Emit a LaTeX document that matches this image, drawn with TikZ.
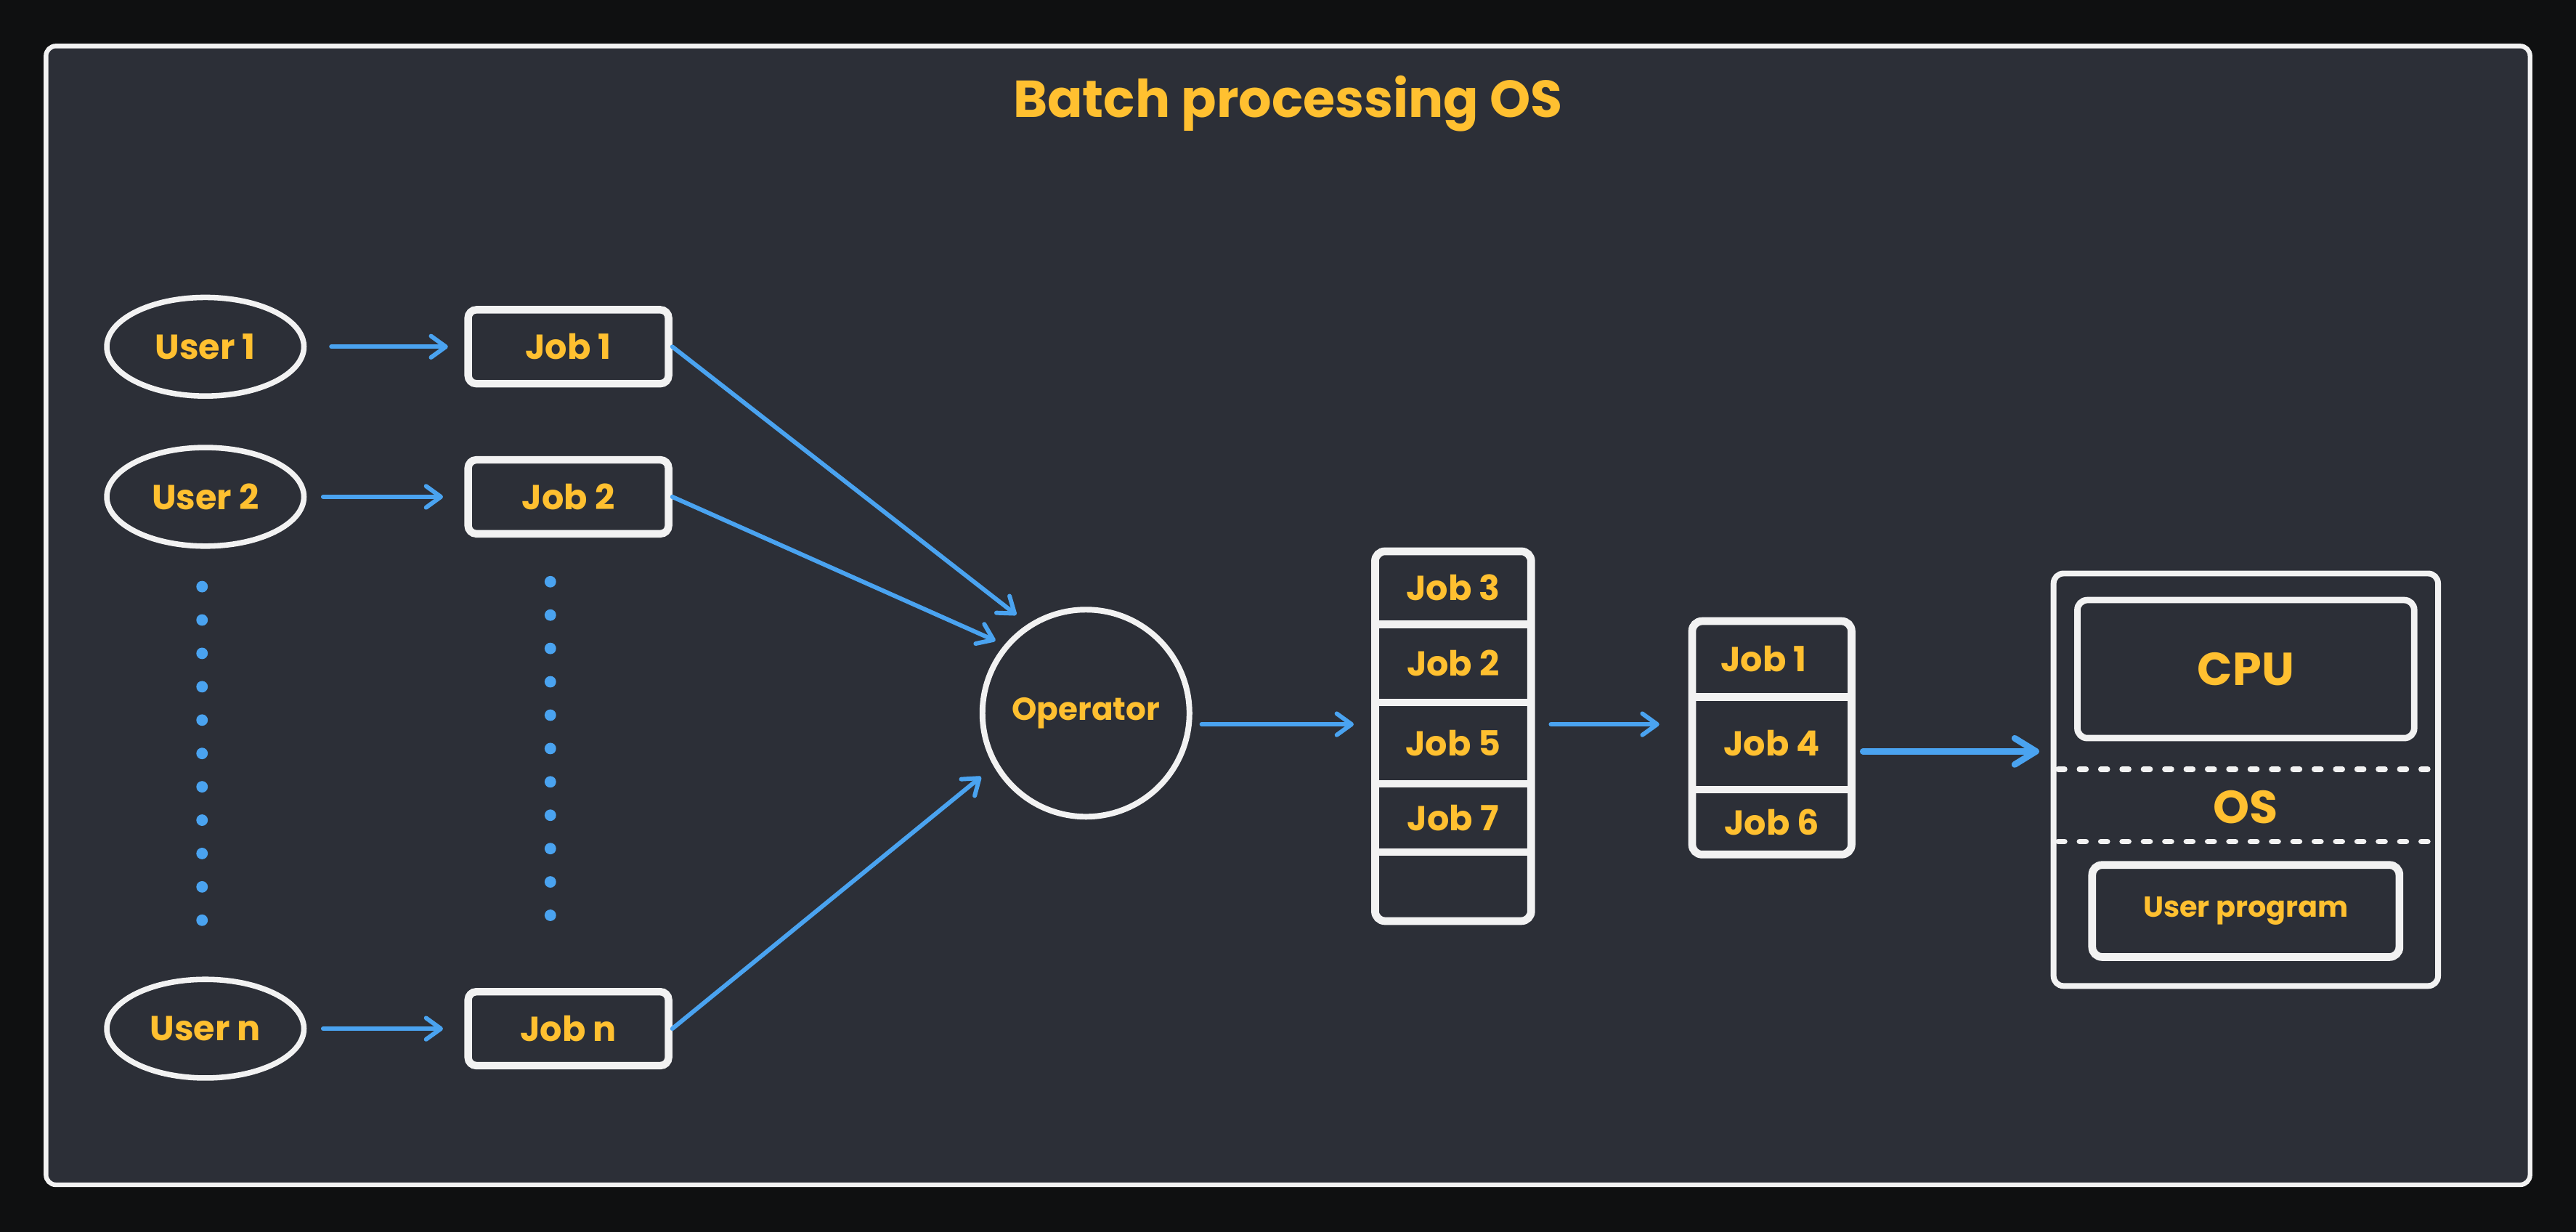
\documentclass[tikz,border=0pt]{standalone}
\usepackage{fontspec}
\setmainfont{Poppins}
\usepackage{tikz}
\usetikzlibrary{positioning}
\usetikzlibrary{arrows.meta}
\usetikzlibrary{shapes.geometric}

\definecolor{night}{RGB}{15,16,17}
\definecolor{panel}{RGB}{44,47,55}
\definecolor{chalk}{RGB}{242,242,242}
\definecolor{sky}{RGB}{74,163,240}
\definecolor{amber}{RGB}{255,192,48}

\tikzset{node distance=5mm, % default gap between placed nodes
user/.style={ % the user ellipses
ellipse, draw=chalk, line width=1.9pt, text=amber,
minimum width=24mm, minimum height=12mm, inner sep=0pt,
font=\bfseries\fontsize{12}{14}\selectfont},
job/.style={ % job cards
rectangle, rounded corners=1mm, draw=chalk, line width=2.6pt, text=amber,
minimum width=24.4mm, minimum height=9mm,
font=\bfseries\fontsize{12}{14}\selectfont},
hub/.style={circle, draw=chalk, line width=2pt, minimum size=25.2mm, inner sep=0pt,
text=amber, font=\bfseries\fontsize{11}{13}\selectfont},
cell/.style={rectangle, inner sep=0pt, outer sep=0pt, text=amber,
font=\bfseries\fontsize{12}{14}\selectfont},
rack/.style={draw=chalk, line width=2.7pt, rounded corners=1.2mm},
sysbox/.style={rectangle, draw=chalk, line width=2pt, rounded corners=1.2mm,
minimum width=46.8mm, minimum height=50.2mm},
part/.style={rectangle, draw=chalk, rounded corners=1.2mm, text=amber},
divider/.style={draw=chalk, line width=1.9pt, line cap=round, dash pattern=on 0.8mm off 1.8mm},
title/.style={text=amber, font=\bfseries\fontsize{18}{22}\selectfont},
every edge/.style={ % blue flow arrows
draw=sky, line width=1.5pt, line cap=round,
-{Straight Barb[round, length=1.8mm, width=2.6mm]}},
bigflow/.style={line width=2.2pt, -{Straight Barb[round, length=2.6mm, width=3.2mm]}}}

\begin{document}
\begin{tikzpicture}[x=0.2mm, y=-0.2mm]
	% backdrop and panel
	\fill[night] (0,0) rectangle (1568,749.7);
	\draw[chalk, fill=panel, line width=1.6pt, rounded corners=1.2mm] (28,28) rectangle (1540,721);
	\node[title] (head) at (784,63) {Batch processing OS};

	% users and jobs
	\node[user] (u1) at (125,211) {User 1};
	\node[user, below=5.6mm of u1] (u2) {User 2};
	\node[user] (un) at (125,626) {User n};
	\node[job, right=19.2mm of u1] (j1) {Job 1};
	\node[job, right=19.2mm of u2] (j2) {Job 2};
	\node[job, right=19.2mm of un] (jn) {Job n};

	\foreach \k in {0,...,10} {
		\fill[sky] (123,357+20.3*\k) circle (0.7mm);
		\fill[sky] (335,354+20.3*\k) circle (0.7mm);
	}

	\draw (u1) edge[shorten <=3mm, shorten >=2mm] (j1);
	\draw (u2) edge[shorten <=2mm, shorten >=2.6mm] (j2);
	\draw (un) edge[shorten <=2mm, shorten >=2.6mm] (jn);

	\node[hub] (op) at (661,434) {Operator};
	\draw (j1.east) edge[shorten >=1.8mm] (op.123);
	\draw (j2.east) edge[shorten >=1.2mm] (op.140);
	\draw (jn.east) edge[shorten >=2mm] (op.210);

	% job pool
	\node[cell, minimum width=19mm, minimum height=8.9mm] (a1) at (884.5,357.75) {Job 3};
	\node[cell, minimum width=19mm, minimum height=9.5mm, below=0pt of a1] (a2) {Job 2};
	\node[cell, minimum width=19mm, minimum height=9.9mm, below=0pt of a2] (a3) {Job 5};
	\node[cell, minimum width=19mm, minimum height=8.3mm, below=0pt of a3] (a4) {Job 7};
	\node[cell, minimum width=19mm, minimum height=8.4mm, below=0pt of a4] (a5) {};
	\draw[rack] (a1.north west) rectangle (a5.south east);
	\foreach \c in {a1,a2,a3,a4}
		\draw[rack, sharp corners] (\c.south west) -- (\c.south east);

	% batch
	\node[cell, minimum width=19.4mm, minimum height=9.2mm] (b1) at (1078.5,401) {\hspace*{-2mm}Job 1};
	\node[cell, minimum width=19.4mm, minimum height=11.3mm, below=0pt of b1] (b2) {Job 4};
	\node[cell, minimum width=19.4mm, minimum height=7.9mm, below=0pt of b2] (b3) {Job 6};
	\draw[rack] (b1.north west) rectangle (b3.south east);
	\foreach \c in {b1,b2}
		\draw[rack, sharp corners] (\c.south west) -- (\c.south east);

	\draw (op.354) edge[shorten <=1.2mm, shorten >=2.6mm] (op.354 -| a1.west);
	\draw (a3.east |- op.354) edge[shorten <=2.4mm, shorten >=4mm] (b1.west |- op.354);

	% memory layout
	\node[sysbox] (sys) at (1367,474.5) {};
	\node[part, line width=2.2pt, minimum width=41mm, minimum height=16.8mm, below=3.2mm of sys.north,
		font=\bfseries\fontsize{16}{19}\selectfont] (cpu) {CPU};
	\coordinate[below=3.4mm of cpu.south] (d1);
	\coordinate[below=8.8mm of d1] (d2);
	\draw[divider, shorten <=0.9mm, shorten >=0.9mm] (d1 -| sys.west) -- (d1 -| sys.east);
	\draw[divider, shorten <=0.9mm, shorten >=0.9mm] (d2 -| sys.west) -- (d2 -| sys.east);
	\node[text=amber, font=\bfseries\fontsize{16}{19}\selectfont] (os) at ([yshift=-4.6mm]d1) {OS};
	\node[part, line width=2.7pt, minimum width=37.4mm, minimum height=11.2mm, above=3.4mm of sys.south,
		font=\bfseries\fontsize{10}{12}\selectfont] (prog) {User program};

	\coordinate (feed) at ([yshift=-1mm]b2.east);
	\draw (feed) edge[bigflow, shorten <=1.4mm, shorten >=1.4mm] (feed -| sys.west);
\end{tikzpicture}
\end{document}
